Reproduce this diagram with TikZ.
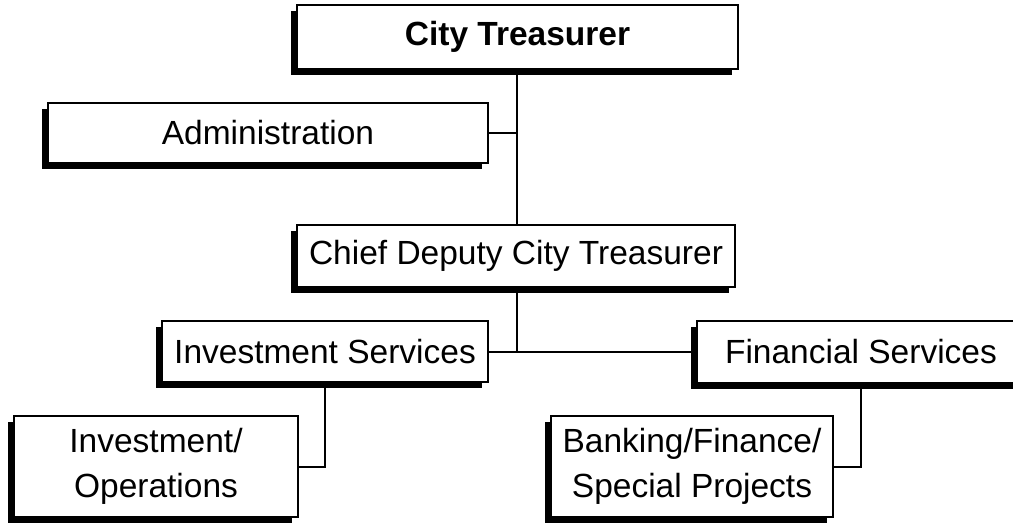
\documentclass[tikz,border=0pt]{standalone}
\usepackage{fontspec}
\setmainfont{Liberation Sans}
\usetikzlibrary{shadows}
\begin{document}
\begin{tikzpicture}[x=1pt,y=-1pt,
  unit/.style={draw=black, fill=white, line width=2pt, inner sep=0pt,
    align=center, font=\fontsize{33.5}{45}\selectfont,
    drop shadow={shadow xshift=-6pt, shadow yshift=-6pt, fill=black, opacity=1}},
  link/.style={line width=2pt}]
\useasboundingbox (0,0) rectangle (1013,523);

\node[unit, minimum width=441pt, minimum height=64pt, font=\fontsize{33.5}{45}\selectfont\bfseries]
  (ct) at (517.5,37) {City Treasurer};
\node[unit, minimum width=440pt, minimum height=60pt] (adm) at (268,133) {Administration};
\node[unit, minimum width=438pt, minimum height=62pt] (cd) at (516,256) {Chief Deputy City Treasurer};
\node[unit, minimum width=326pt, minimum height=61pt] (is) at (325,351.5) {Investment Services};
\node[unit, minimum width=328pt, minimum height=62pt] (fs) at (861,351.5) {Financial Services};
\node[unit, minimum width=284pt, minimum height=101pt] (io) at (156,466.5) {Investment/\\Operations};
\node[unit, minimum width=282pt, minimum height=101pt] (bk) at (692,466.5) {Banking/Finance/\\Special Projects};

\coordinate (admj) at (517,133);
\coordinate (midj) at (517,351.5);
\coordinate (ioj) at (325,466.5);
\coordinate (bkj) at (861,466.5);

\draw[link] (ct.south -| admj) -- (cd.north -| admj);
\draw[link] (adm.east) -- (admj);
\draw[link] (cd.south -| midj) -- (midj);
\draw[link] (is.east) -- (fs.west);
\draw[link] (is.south -| ioj) -- (ioj) -- (io.east);
\draw[link] (fs.south -| bkj) -- (bkj) -- (bk.east);
\end{tikzpicture}
\end{document}
